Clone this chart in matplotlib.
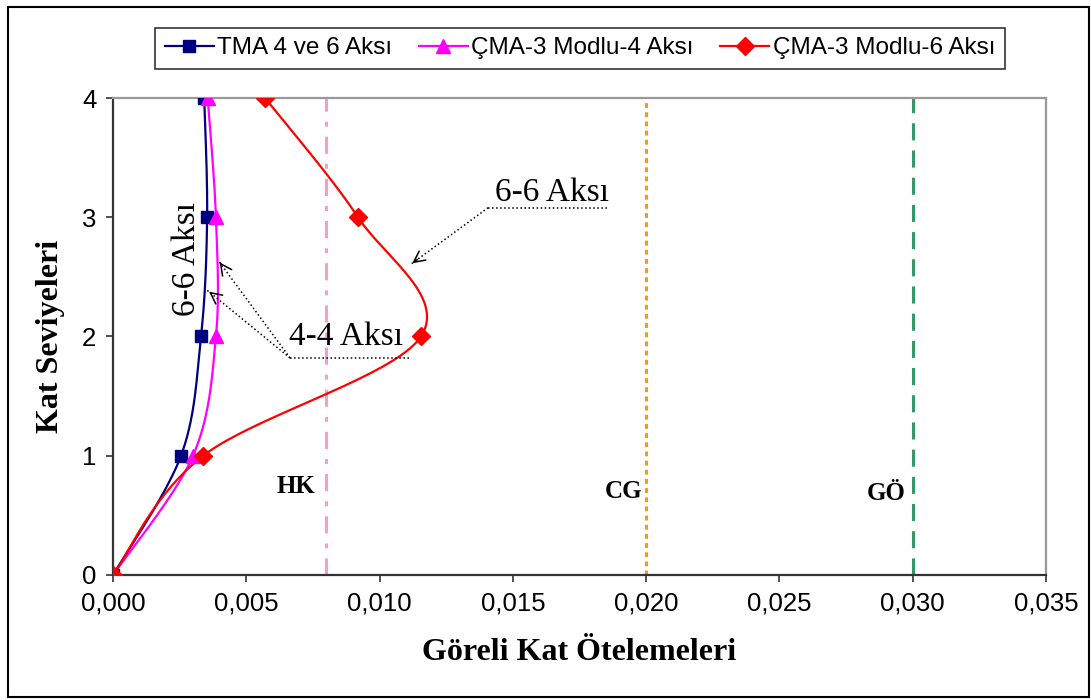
import matplotlib as mpl
mpl.use('Agg')
import matplotlib.pyplot as plt
from matplotlib.ticker import FuncFormatter
from matplotlib.patches import Rectangle
import numpy as np

# data
levels = [0, 1, 2, 3, 4]
tma_4_6 = [0.0, 0.00255, 0.0033, 0.00353, 0.00342]
cma_4 = [0.0, 0.0030, 0.00386, 0.00386, 0.00355]
cma_6 = [0.0, 0.00338, 0.01155, 0.00919, 0.0057]

limit_x = [0.008, 0.020, 0.030]
limit_names = ['HK', 'CG', 'GÖ']
limit_colors = ['#ff99cc', '#ff9900', '#339966']
limit_dashes = [(5.6, 3.3, 1.6, 3.3), (1.6, 1.4), (5.6, 3.3)]

series_names = ['TMA 4 ve 6 Aksı', 'ÇMA-3 Modlu-4 Aksı', 'ÇMA-3 Modlu-6 Aksı']
series_colors = ['#000080', '#ff00ff', '#ff0000']
series_markers = ['s', '^', 'D']

x_ticks = [0.0, 0.005, 0.010, 0.015, 0.020, 0.025, 0.030, 0.035]
y_ticks = [0, 1, 2, 3, 4]


def smooth(xs, ys, n=40):
    # excel style smoothed line (catmull-rom through the points)
    p = np.column_stack([xs, ys]).astype(float)
    pts = np.vstack([p[0], p, p[-1]])
    out = []
    for i in range(1, len(pts) - 2):
        p0, p1, p2, p3 = pts[i - 1], pts[i], pts[i + 1], pts[i + 2]
        c1 = p1 + (p2 - p0) / 6.0
        c2 = p2 - (p3 - p1) / 6.0
        t = np.linspace(0, 1, n)[:, None]
        seg = ((1 - t) ** 3) * p1 + 3 * ((1 - t) ** 2) * t * c1 + 3 * (1 - t) * t ** 2 * c2 + t ** 3 * p2
        out.append(seg)
    out = np.vstack(out)
    return out[:, 0], out[:, 1]


fig = plt.figure(figsize=(10.91, 7), dpi=100)
ax = fig.add_axes([0.1036, 0.1786, 0.8552, 0.6814])

for xv, col, dsh in zip(limit_x, limit_colors, limit_dashes):
    ax.plot([xv, xv], [0, 4], color=col, linestyle=(0, dsh), linewidth=2.2, zorder=1)

serif = 'Liberation Serif'
label_pos = [(0.00686, 0.688), (0.01916, 0.646), (0.02902, 0.629)]
for (lx, ly), name in zip(label_pos, limit_names):
    ax.text(lx, ly, name, ha='center', va='baseline', fontsize=18, fontweight='bold',
            family=serif)

handles = []
for vals, name, col, mk, ms in zip([tma_4_6, cma_4, cma_6], series_names, series_colors,
                                    series_markers, [8, 10, 9]):
    sx, sy = smooth(vals, levels)
    ax.plot(sx, sy, color=col, linewidth=1.6, zorder=3)
    ax.plot(vals, levels, linestyle='none', marker=mk, color=col, markersize=ms, zorder=4)
    h, = ax.plot([], [], color=col, linewidth=1.6, marker=mk, markersize=ms, label=name)
    handles.append(h)

# annotations
dot = dict(color='black', linestyle=':', linewidth=1.1, zorder=5)
arrow = dict(arrowstyle='->', color='black', lw=1.1, mutation_scale=20)
ax.text(0.01646, 3.14, '6-6 Aksı', ha='center', va='baseline', fontsize=24, family=serif)
ax.plot([0.01407, 0.01853], [3.08, 3.08], **dot)
ax.plot([0.01407, 0.01114], [3.08, 2.60], **dot)
ax.annotate('', xy=(0.01114, 2.60), xytext=(0.01150, 2.66), arrowprops=arrow)

ax.text(0.00874, 1.93, '4-4 Aksı', ha='center', va='baseline', fontsize=24, family=serif)
ax.plot([0.00664, 0.01114], [1.82, 1.82], **dot)
ax.plot([0.00664, 0.00394], [1.82, 2.64], **dot)
ax.plot([0.00664, 0.00352], [1.82, 2.39], **dot)
ax.annotate('', xy=(0.00394, 2.64), xytext=(0.00410, 2.59), arrowprops=arrow)
ax.annotate('', xy=(0.00352, 2.39), xytext=(0.00375, 2.35), arrowprops=arrow)

ax.text(0.00278, 2.65, '6-6 Aksı', ha='center', va='center', rotation=90, fontsize=24,
        family=serif)

ax.set_xlim(0, 0.035)
ax.set_ylim(0, 4)
ax.set_xticks(x_ticks)
ax.set_yticks(y_ticks)
ax.xaxis.set_major_formatter(FuncFormatter(lambda v, p: f'{v:.3f}'.replace('.', ',')))
ax.tick_params(direction='out', length=5, width=1.2, labelsize=18.5, pad=7, color='#333333')
for lab in ax.get_xticklabels() + ax.get_yticklabels():
    lab.set_family('Liberation Sans')

ax.spines['left'].set_color('#333333')
ax.spines['bottom'].set_color('#333333')
ax.spines['top'].set_color('#999999')
ax.spines['right'].set_color('#999999')
for s in ax.spines.values():
    s.set_linewidth(1.6)

ax.set_xlabel('Göreli Kat Ötelemeleri', fontsize=23, fontweight='bold', family=serif, labelpad=16)
ax.set_ylabel('Kat Seviyeleri', fontsize=23, fontweight='bold', family=serif, labelpad=12)

leg = fig.legend(handles=handles, loc='center', bbox_to_anchor=(0.5316, 0.931), ncol=3,
                 prop={'family': 'Liberation Sans', 'size': 17.5}, frameon=True, fancybox=False,
                 handlelength=2.0, handletextpad=0.15, columnspacing=1.1, borderpad=0.4,
                 borderaxespad=0)
leg.get_frame().set_edgecolor('black')
leg.get_frame().set_linewidth(1.2)

fig.patches.append(Rectangle((0.0073, 0.0043), 0.991, 0.986, transform=fig.transFigure,
                             fill=False, edgecolor='black', linewidth=1.5))

fig.savefig('out.png', dpi=100)
